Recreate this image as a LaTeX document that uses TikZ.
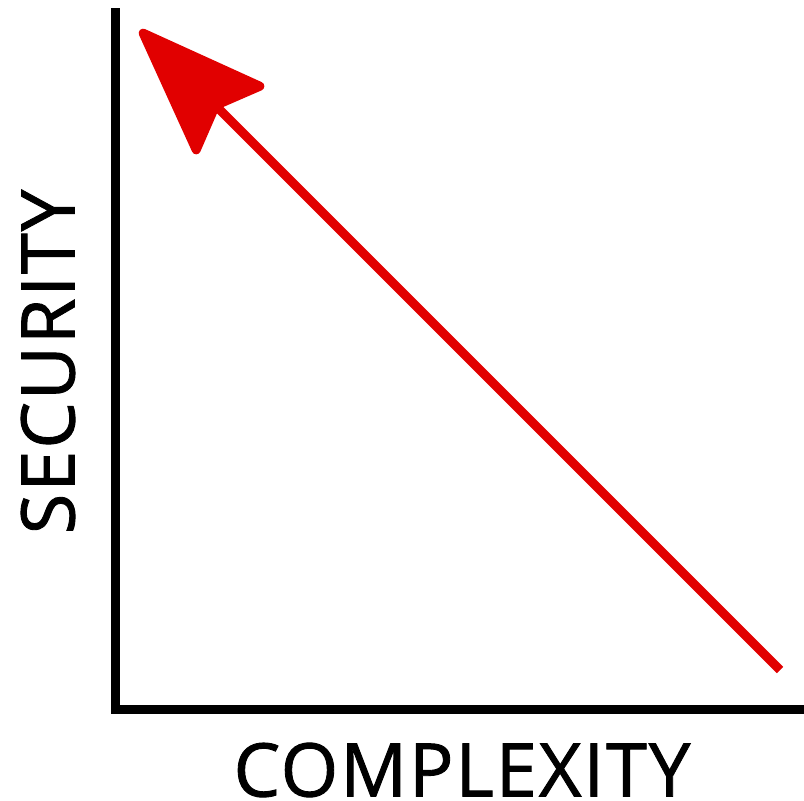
\documentclass[tikz,border=0pt]{standalone}
\usepackage{fontspec}
\setmainfont{Open Sans}[FakeBold=1.2,LetterSpace=2.6]
\usepackage{tikz}
\usepackage{xcolor}
\usetikzlibrary{arrows.meta}
\definecolor{trend}{HTML}{E10000}

\begin{document}
\begin{tikzpicture}[x=1pt,y=-1pt,>=Stealth]
    \useasboundingbox (0,0) rectangle (804,801);
    \coordinate (ytop) at (115,8);
    \coordinate (origin) at (115,709);
    \coordinate (xend) at (804,709);
    \draw[line width=9pt] (ytop)--(origin)--(xend);
    \node[rotate=90,font=\fontsize{74}{74}\selectfont,inner sep=0pt] (ylab) at (48,362) {SECURITY};
    \node[font=\fontsize{74}{74}\selectfont,inner sep=0pt] (xlab) at (462,770) {COMPLEXITY};
    \coordinate (low) at (780,670);
    \coordinate (high) at (140,30);
    \draw[trend,line width=9pt,
      -{Stealth[length=140pt,width=104pt,inset=20pt,round]}] (low)--(high);
\end{tikzpicture}
\end{document}
